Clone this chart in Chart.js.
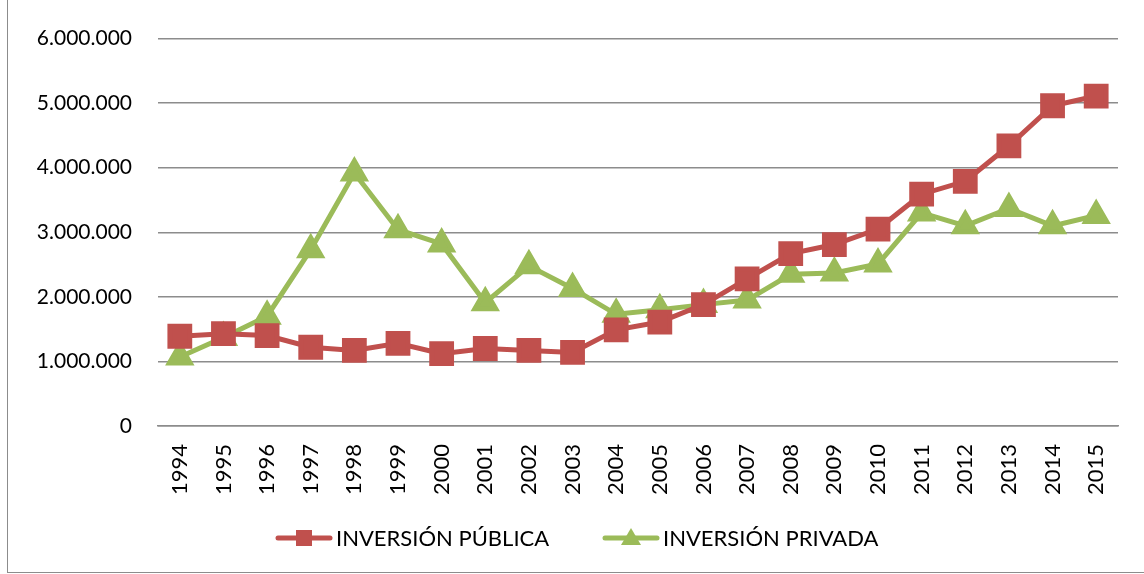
<!DOCTYPE html>
<html>
<head>
<meta charset="utf-8">
<script src="https://cdn.jsdelivr.net/npm/chart.js@4"></script>
<style>
  html, body { margin: 0; padding: 0; background: #fff; }
  #wrap { position: relative; width: 1144px; height: 574px; }
  #frame { position: absolute; left: 7px; top: -1px; width: 1140px; height: 574px; border: 1px solid #8c8c8c; box-sizing: border-box; }
  canvas { position: absolute; left: 0; top: 0; }
</style>
</head>
<body>
<div id="wrap">
  <div id="frame"></div>
  <canvas id="chart" width="1144" height="574"></canvas>
</div>
<script>
const years = ['1994', '1995', '1996', '1997', '1998', '1999', '2000', '2001', '2002', '2003', '2004',
               '2005', '2006', '2007', '2008', '2009', '2010', '2011', '2012', '2013', '2014', '2015'];

const inversionPublica = [1390000, 1430000, 1400000, 1220000, 1170000, 1280000, 1120000, 1200000, 1170000, 1140000, 1490000,
                          1610000, 1880000, 2280000, 2670000, 2810000, 3050000, 3590000, 3790000, 4340000, 4960000, 5110000];

const inversionPrivada = [1070000, 1370000, 1700000, 2730000, 3920000, 3040000, 2820000, 1910000, 2480000, 2130000, 1730000,
                          1800000, 1880000, 1950000, 2350000, 2370000, 2510000, 3300000, 3100000, 3370000, 3100000, 3260000];

const seriesNames = ['INVERSIÓN PÚBLICA', 'INVERSIÓN PRIVADA'];
const yTicks = [0, 1000000, 2000000, 3000000, 4000000, 5000000, 6000000];

const RED = '#C0504D';
const GREEN = '#9BBB59';
const FONT = 'Lato, "Open Sans", sans-serif';

function formatMiles(v) {
    return String(v).replace(/\B(?=(\d{3})+(?!\d))/g, '.');
}

// legend drawn by hand: line through the marker, like the spreadsheet legend
const lineLegend = {
    id: 'lineLegend',
    afterDraw(chart) {
        const ctx = chart.ctx;
        const items = [
            { x: 278, ds: chart.data.datasets[0] },
            { x: 605, ds: chart.data.datasets[1] }
        ];
        const y = 538;
        ctx.save();
        items.forEach(it => {
            ctx.strokeStyle = it.ds.borderColor;
            ctx.lineWidth = 5;
            ctx.lineCap = 'round';
            ctx.beginPath();
            ctx.moveTo(it.x, y);
            ctx.lineTo(it.x + 52, y);
            ctx.stroke();
            ctx.fillStyle = it.ds.backgroundColor;
            const cx = it.x + 26;
            if (it.ds.pointStyle === 'rect') {
                ctx.fillRect(cx - 8, y - 8, 16, 16);
            } else {
                ctx.beginPath();
                ctx.moveTo(cx, y - 10);
                ctx.lineTo(cx + 10, y + 7);
                ctx.lineTo(cx - 10, y + 7);
                ctx.closePath();
                ctx.fill();
            }
            ctx.fillStyle = '#000';
            ctx.font = '22px ' + FONT;
            ctx.textBaseline = 'middle';
            ctx.textAlign = 'left';
            ctx.fillText(it.ds.label, it.x + 58, y + 1);
        });
        ctx.restore();
    }
};

new Chart(document.getElementById('chart').getContext('2d'), {
    type: 'line',
    data: {
        labels: years,
        datasets: [{
            label: seriesNames[0],
            data: inversionPublica,
            borderColor: RED,
            backgroundColor: RED,
            borderWidth: 5,
            pointStyle: 'rect',
            pointRadius: 14,
            pointHoverRadius: 14,
            tension: 0
        }, {
            label: seriesNames[1],
            data: inversionPrivada,
            borderColor: GREEN,
            backgroundColor: GREEN,
            borderWidth: 5,
            pointStyle: 'triangle',
            pointRadius: 12,
            pointHoverRadius: 12,
            tension: 0
        }]
    },
    options: {
        responsive: false,
        animation: false,
        layout: { padding: { left: 0, top: 38, right: 26, bottom: 0 } },
        plugins: {
            legend: { display: false },
            tooltip: { enabled: false }
        },
        scales: {
            x: {
                offset: true,
                grid: { display: false, drawTicks: false, offset: true },
                border: { display: true, color: '#8c8c8c', width: 1.5 },
                ticks: {
                    color: '#000',
                    font: { family: FONT, size: 22 },
                    minRotation: 90,
                    maxRotation: 90,
                    padding: 18,
                    autoSkip: false
                },
                afterFit(scale) { scale.height = 148; }
            },
            y: {
                min: 0,
                max: 6000000,
                afterBuildTicks(scale) { scale.ticks = yTicks.map(v => ({ value: v })); },
                grid: { color: '#8c8c8c', lineWidth: 1.5, drawTicks: false },
                border: { display: false },
                ticks: {
                    color: '#000',
                    font: { family: FONT, size: 21 },
                    padding: 26,
                    callback: v => formatMiles(v)
                },
                afterFit(scale) { scale.width = 158; }
            }
        }
    },
    plugins: [lineLegend]
});
</script>
</body>
</html>
